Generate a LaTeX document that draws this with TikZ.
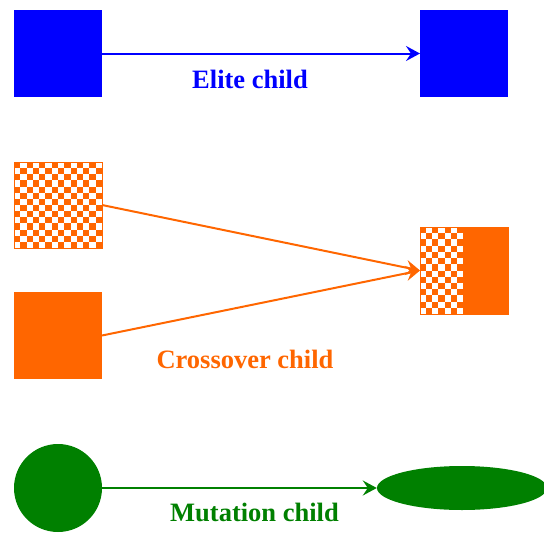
\documentclass[tikz,border=0pt]{standalone}
\usepackage{fontspec}
\setmainfont{Liberation Serif}
\usetikzlibrary{arrows.meta,shapes.geometric,calc}
\definecolor{eblue}{RGB}{0,0,255}
\definecolor{corange}{RGB}{255,102,0}
\definecolor{mgreen}{RGB}{0,128,0}
\tikzset{
  sq/.style={rectangle, minimum width=88pt, minimum height=87pt, inner sep=0pt, outer sep=0pt},
  arr/.style={line width=2pt, -{Stealth[length=14pt,width=15pt,inset=5pt]}},
  lbl/.style={font=\fontsize{26.5}{30}\selectfont\bfseries, anchor=base, inner sep=0pt},
}
\newcommand{\mychecker}[6]{% x0 y0 cols rows cellw cellh
  \foreach \i in {1,...,#3}{\foreach \j in {1,...,#4}{%
    \pgfmathtruncatemacro{\cpar}{mod(\i+\j,2)}%
    \ifnum\cpar=0
      \fill[corange] ({#1+(\i-1)*#5},{#2+(\j-1)*#6}) rectangle ++(#5,#6);
    \fi}}}
\begin{document}
\begin{tikzpicture}[x=1pt,y=-1pt]
\useasboundingbox (0,0) rectangle (544,533);
% Elite
\node[sq, fill=eblue] (e1) at (58,53.5) {};
\node[sq, fill=eblue] (e2) at (464,53.5) {};
\draw[arr, eblue] (e1) -- (e2);
\node[lbl, text=eblue] (el) at (250,88) {Elite child};
% Crossover
\node[sq, fill=white, minimum height=86pt] (c1) at (58,205) {};
\mychecker{14}{162}{14}{14}{6.2857}{6.1429}
\draw[corange, line width=1pt] (c1.north west) rectangle (c1.south east);
\node[sq, fill=corange] (c2) at (58,335.5) {};
\node[sq, fill=white] (x) at (464,270.5) {};
\mychecker{420}{227}{7}{14}{6.1429}{6.2143}
\fill[corange] (463,227) rectangle (508,314);
\draw[corange, line width=1pt] (x.north west) rectangle (x.south east);
\draw[arr, corange] (c1.east) -- (x.west);
\draw[arr, corange] (c2.east) -- (x.west);
\node[lbl, text=corange] (cl) at (245,368) {Crossover child};
% Mutation
\node[circle, fill=mgreen, minimum size=88pt, inner sep=0pt] (m1) at (58,488) {};
\node[ellipse, fill=mgreen, minimum width=170pt, minimum height=44pt, inner sep=0pt] (m2) at (462,488) {};
\draw[arr, mgreen] (m1) -- (m2);
\node[lbl, text=mgreen] (ml) at (254.5,521) {Mutation child};
\end{tikzpicture}
\end{document}
